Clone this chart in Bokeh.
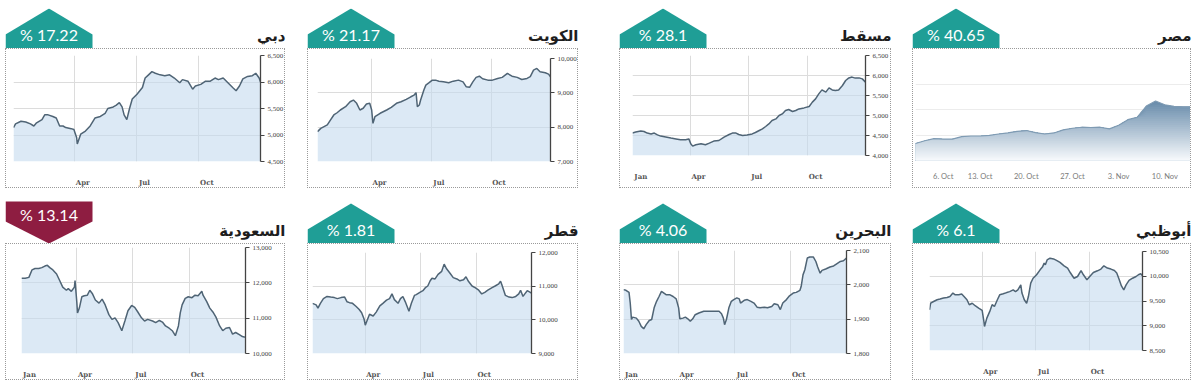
import numpy as np
from bokeh.plotting import figure
from bokeh.layouts import row, column
from bokeh.models import Range1d, FixedTicker, Spacer, NumeralTickFormatter
from bokeh.core.properties import value
from bokeh.embed import file_html
from bokeh.resources import INLINE

# ---------------- data ----------------
titles = ["دبي", "الكويت", "مسقط", "مصر", "السعودية", "قطر", "البحرين", "أبوظبي"]
changes = [17.22, 21.17, 28.1, 40.65, -13.14, 1.81, 4.06, 6.1]

month_day = {"Jan": 0, "Apr": 90, "Jul": 181, "Oct": 273}

dubai_days = [0, 3, 11, 18, 25, 30, 34, 42, 46, 51, 58, 63, 68, 73, 77, 85, 89, 93, 94, 99,
              106, 113, 120, 128, 135, 139, 147, 151, 156, 160, 163, 167, 171, 175, 182, 190,
              194, 199, 204, 209, 216, 223, 230, 237, 245, 249, 257, 264, 268, 276, 283, 290,
              297, 302, 309, 316, 323, 328, 333, 338, 345, 352, 357, 362, 364]
dubai_vals = [5140, 5210, 5260, 5245, 5210, 5170, 5230, 5290, 5380, 5380, 5350, 5320, 5170, 5170,
              5140, 5120, 5105, 4955, 4830, 5015, 5075, 5170, 5320, 5350, 5410, 5500, 5530, 5560,
              5610, 5530, 5380, 5290, 5500, 5680, 5770, 5895, 6075, 6135, 6195, 6165, 6135, 6120,
              6135, 6075, 5985, 6045, 6015, 5865, 5925, 5955, 6015, 6015, 6075, 6045, 6075, 5985,
              5895, 5835, 5925, 6060, 6105, 6120, 6165, 6075, 6000]
dubai_yticks = [4500, 5000, 5500, 6000, 6500]
dubai_months = ["Apr", "Jul", "Oct"]

kuwait_days = [7, 12, 17, 22, 27, 32, 37, 42, 50, 57, 62, 67, 72, 77, 82, 87, 90, 92, 95, 103,
               113, 120, 128, 135, 143, 150, 155, 158, 160, 163, 165, 170, 173, 178, 183, 188,
               193, 200, 208, 215, 223, 230, 235, 240, 245, 250, 255, 260, 268, 275, 283, 290,
               298, 305, 313, 320, 328, 333, 338, 343, 348, 356, 361, 364]
kuwait_vals = [7870, 7965, 8015, 8065, 8210, 8355, 8420, 8500, 8595, 8740, 8790, 8695, 8500, 8550,
               8675, 8695, 8500, 8110, 8305, 8405, 8500, 8575, 8695, 8740, 8810, 8885, 8935, 9005,
               8595, 8645, 8790, 9080, 9225, 9295, 9370, 9370, 9340, 9320, 9295, 9340, 9370, 9320,
               9175, 9160, 9320, 9450, 9485, 9410, 9370, 9370, 9420, 9450, 9565, 9485, 9450, 9390,
               9420, 9470, 9660, 9710, 9615, 9585, 9545, 9470]
kuwait_yticks = [7000, 8000, 9000, 10000]
kuwait_months = ["Apr", "Jul", "Oct"]

muscat_days = [0, 5, 13, 18, 23, 29, 34, 39, 44, 52, 60, 68, 75, 83, 88, 91, 94, 99, 107, 114,
               120, 127, 135, 143, 151, 156, 161, 166, 172, 179, 187, 192, 198, 203, 208, 213,
               218, 224, 229, 234, 239, 244, 250, 255, 260, 268, 276, 281, 286, 291, 296, 302,
               307, 312, 317, 322, 328, 333, 338, 343, 348, 354, 359, 364]
muscat_vals = [4565, 4585, 4610, 4600, 4560, 4540, 4560, 4515, 4485, 4460, 4435, 4415, 4395, 4395,
               4415, 4295, 4235, 4270, 4295, 4270, 4310, 4360, 4375, 4460, 4525, 4560, 4565, 4525,
               4500, 4510, 4540, 4575, 4625, 4665, 4725, 4790, 4875, 4915, 5000, 5040, 5125, 5150,
               5100, 5125, 5165, 5190, 5225, 5335, 5415, 5540, 5640, 5585, 5690, 5640, 5625, 5640,
               5750, 5875, 5940, 5960, 5935, 5940, 5915, 5835]
muscat_yticks = [4000, 4500, 5000, 5500, 6000, 6500]
muscat_months = ["Jan", "Apr", "Jul", "Oct"]

egypt_vals = [6665, 6775, 6855, 6840, 6840, 6935, 6960, 6960, 6985, 7040, 7080, 7145, 7175, 7095,
              7040, 7080, 7200, 7265, 7305, 7295, 7305, 7240, 7385, 7600, 7695, 8135, 8335, 8185,
              8120, 8105, 8105]
egypt_tick_index = [3, 7, 12, 17, 22, 27]
egypt_tick_labels = ["6. Oct", "13. Oct", "20. Oct", "27. Oct", "3. Nov", "10. Nov"]
egypt_yticks = [6000, 7000, 8000, 9000, 10000]

saudi_days = [0, 6, 12, 17, 22, 28, 33, 38, 42, 46, 51, 57, 62, 67, 73, 76, 81, 86, 87, 90, 91,
              94, 98, 102, 107, 111, 115, 120, 126, 131, 136, 142, 147, 152, 157, 163, 168, 173,
              179, 184, 189, 195, 200, 205, 213, 218, 224, 229, 234, 240, 245, 250, 255, 258, 261,
              266, 271, 277, 282, 287, 293, 295, 301, 306, 311, 316, 322, 327, 332, 338, 343, 348,
              354, 359, 363]
saudi_vals = [12130, 12130, 12155, 12365, 12405, 12405, 12430, 12475, 12495, 12430, 12365, 12250,
              12065, 11880, 11790, 11835, 11760, 11880, 12065, 11425, 11150, 11285, 11605, 11635,
              11650, 11790, 11700, 11515, 11425, 11540, 11375, 11100, 10965, 11010, 10875, 10645,
              10920, 11210, 11360, 11305, 11175, 11010, 10920, 10965, 10920, 10875, 10935, 10890,
              10780, 10715, 10645, 10505, 10780, 11150, 11375, 11560, 11605, 11580, 11650, 11635,
              11760, 11650, 11470, 11285, 11175, 11030, 10780, 10645, 10715, 10735, 10550, 10595,
              10535, 10480, 10460]
saudi_yticks = [10000, 11000, 12000, 13000]
saudi_months = ["Jan", "Apr", "Jul", "Oct"]

qatar_days = [3, 9, 12, 16, 21, 27, 33, 39, 44, 50, 56, 60, 64, 69, 75, 80, 84, 88, 90, 93, 97,
              103, 108, 114, 119, 125, 130, 134, 138, 144, 148, 152, 156, 159, 162, 166, 171, 174,
              180, 185, 189, 193, 197, 200, 205, 210, 216, 220, 224, 230, 235, 241, 246, 252, 256,
              260, 266, 271, 277, 282, 287, 292, 299, 304, 310, 313, 315, 321, 327, 332, 338, 343,
              346, 350, 353, 357, 362, 364]
qatar_vals = [10490, 10445, 10350, 10490, 10630, 10695, 10675, 10660, 10630, 10660, 10675, 10535,
              10510, 10490, 10395, 10305, 10210, 10025, 9840, 9980, 10165, 10115, 10230, 10415,
              10490, 10585, 10630, 10770, 10600, 10490, 10630, 10695, 10535, 10395, 10255, 10490,
              10725, 10750, 10815, 10865, 10955, 11005, 11160, 11235, 11215, 11350, 11440, 11655,
              11515, 11375, 11255, 11215, 11160, 11190, 11280, 11145, 11005, 10955, 10880, 10770,
              10815, 10880, 10955, 11005, 11070, 11145, 11050, 10725, 10675, 10660, 10695, 10770,
              10880, 10695, 10770, 10865, 10815, 10790]
qatar_yticks = [9000, 10000, 11000, 12000]
qatar_months = ["Apr", "Jul", "Oct"]

bahrain_days = [0, 4, 9, 11, 13, 15, 21, 25, 29, 33, 37, 42, 46, 50, 54, 58, 62, 66, 70, 76, 81,
                86, 90, 92, 97, 101, 105, 109, 113, 117, 123, 131, 139, 147, 156, 160, 163, 165,
                168, 172, 176, 180, 185, 189, 191, 197, 202, 208, 213, 218, 223, 230, 235, 242,
                246, 252, 256, 260, 266, 271, 277, 282, 288, 290, 293, 296, 300, 304, 310, 314,
                317, 321, 324, 330, 337, 343, 348, 354, 359, 364]
bahrain_vals = [1986, 1984, 1978, 1947, 1899, 1906, 1903, 1894, 1879, 1872, 1884, 1896, 1899, 1933,
                1952, 1966, 1981, 1976, 1971, 1971, 1966, 1959, 1933, 1901, 1903, 1906, 1901, 1894,
                1901, 1913, 1918, 1923, 1923, 1923, 1923, 1916, 1903, 1884, 1899, 1933, 1952, 1957,
                1962, 1959, 1947, 1955, 1957, 1952, 1947, 1935, 1933, 1935, 1933, 1937, 1945, 1942,
                1928, 1947, 1957, 1968, 1976, 1978, 1984, 1995, 2029, 2044, 2078, 2081, 2081, 2068,
                2052, 2034, 2042, 2046, 2052, 2055, 2061, 2068, 2070, 2078]
bahrain_yticks = [1800, 1900, 2000, 2100]
bahrain_months = ["Jan", "Apr", "Jul", "Oct"]

abudhabi_days = [0, 2, 7, 13, 18, 24, 30, 35, 40, 44, 50, 55, 59, 64, 68, 73, 78, 84, 90, 93, 94,
                 98, 103, 107, 111, 116, 120, 126, 132, 137, 143, 147, 151, 156, 158, 162, 166,
                 169, 173, 177, 183, 189, 193, 196, 198, 201, 206, 212, 217, 223, 230, 236, 241,
                 247, 253, 259, 263, 269, 275, 280, 287, 293, 298, 304, 310, 316, 320, 324, 328,
                 332, 336, 341, 347, 353, 357, 361, 364]
abudhabi_vals = [9320, 9455, 9490, 9525, 9540, 9560, 9570, 9590, 9660, 9625, 9625, 9640, 9590,
                 9525, 9425, 9455, 9405, 9355, 9310, 9085, 8985, 9155, 9290, 9425, 9390, 9525, 9625,
                 9645, 9670, 9690, 9725, 9690, 9725, 9825, 9660, 9525, 9455, 9590, 9860, 9960,
                 10030, 10130, 10185, 10265, 10230, 10330, 10365, 10350, 10320, 10280, 10210, 10165,
                 10065, 9960, 9995, 10115, 10030, 9930, 10010, 10075, 10110, 10145, 10210, 10165,
                 10145, 10115, 10065, 9940, 9805, 9725, 9825, 9915, 9960, 9995, 10030, 10050, 10010]
abudhabi_yticks = [8500, 9000, 9500, 10000, 10500]
abudhabi_months = ["Apr", "Jul", "Oct"]

# ---------------- style ----------------
TEAL = "#1f9e96"
MAROON = "#8e1d41"
LINE = "#4f6475"
FILL = "#c4dbef"
GRID = "#dcdcdc"
AXIS = "#444444"
BORDER_CSS = {"border": "1px dotted #9a9a9a"}

LEFT_PAD, TOP_PAD = 5, 8
COL_W = [282, 273, 274, 281]
GAPS = [20, 39, 19]
H1_HEAD, H1_CHART = 40, 140
H2_HEAD, H2_CHART = 55, 137
BADGE_W = 87


def header(title, change, width, height):
    p = figure(width=width, height=height, x_range=Range1d(0, width), y_range=Range1d(0, height),
               x_axis_location=None, y_axis_location=None, output_backend="svg",
               toolbar_location=None, min_border=0)
    p.frame_align = False
    p.grid.visible = False
    p.outline_line_color = None
    if change >= 0:
        xs = [0, 0, BADGE_W / 2, BADGE_W, BADGE_W]
        ys = [0, 14, 40, 14, 0]
        col, ty = TEAL, 14
    else:
        xs = [0, 0, BADGE_W, BADGE_W, BADGE_W / 2]
        ys = [22, 42, 42, 22, 0]
        col, ty = MAROON, 29
    p.patch(xs, ys, fill_color=col, line_color=None)
    p.text(x=[BADGE_W / 2], y=[ty], text=["%% %s" % abs(change)], text_align="center",
           text_baseline="middle", text_font=value("Lato"), text_font_size="16px",
           text_color="white")
    p.text(x=[width - 2], y=[13], text=[title], text_align="right", text_baseline="middle",
           text_font=value("DejaVu Sans"), text_font_style="bold", text_font_size="15px",
           text_color="#1e1e1e")
    return p


def chart(days, vals, yticks, months, width, height, L, T, B, R):
    x0, x1 = days[0], 364
    p = figure(width=width, height=height, x_range=Range1d(x0, x1),
               y_range=Range1d(yticks[0], yticks[-1]), y_axis_location="right",
               output_backend="svg", toolbar_location=None,
               min_border_left=L, min_border_top=T, min_border_bottom=B, min_border_right=R)
    p.frame_align = False
    p.styles = BORDER_CSS
    p.outline_line_color = None
    p.varea(x=days, y1=yticks[0], y2=vals, fill_color=FILL, fill_alpha=0.6)
    p.line(days, vals, line_color=LINE, line_width=1.5)
    # x axis: labels just right of the month gridlines
    frame_w = width - L - max(R, 30)
    off = int(round(8 * (x1 - x0) / frame_w))
    pos = [month_day[m] + off for m in months]
    xa = p.xaxis[0]
    xa.ticker = FixedTicker(ticks=pos)
    xa.major_label_overrides = {q: m for q, m in zip(pos, months)}
    xa.axis_line_color = None
    xa.major_tick_line_color = None
    xa.minor_tick_line_color = None
    xa.major_label_standoff = 10
    xa.major_label_text_font = "DejaVu Serif"
    xa.major_label_text_font_size = "7px"
    xa.major_label_text_font_style = "bold"
    xa.major_label_text_color = "#555555"
    p.xgrid.ticker = FixedTicker(ticks=[month_day[m] for m in ["Jan", "Apr", "Jul", "Oct"]])
    p.xgrid.grid_line_color = GRID
    # y axis on the right
    ya = p.yaxis[0]
    ya.ticker = FixedTicker(ticks=yticks)
    ya.formatter = NumeralTickFormatter(format="0,0")
    ya.axis_line_color = AXIS
    ya.axis_line_width = 1.3
    ya.major_tick_line_color = AXIS
    ya.major_tick_out = 4
    ya.major_tick_in = 0
    ya.minor_tick_line_color = None
    ya.major_label_standoff = 3
    ya.major_label_text_font = "Liberation Serif"
    ya.major_label_text_font_size = "7px"
    ya.major_label_text_color = "#444444"
    p.ygrid.grid_line_color = GRID
    return p


def egypt_chart(width, height):
    idx = list(range(len(egypt_vals)))
    p = figure(width=width, height=height, x_range=Range1d(0, len(egypt_vals) - 1),
               y_range=Range1d(egypt_yticks[0], egypt_yticks[-1]), y_axis_location=None,
               output_backend="svg", toolbar_location=None,
               min_border_left=2, min_border_right=0, min_border_top=9, min_border_bottom=29)
    p.frame_align = False
    p.styles = BORDER_CSS
    p.outline_line_color = None
    vals = np.array(egypt_vals, dtype=float)
    lo, hi = egypt_yticks[0], vals.max()
    top_c = np.array([106, 141, 172])
    bot_c = np.array([250, 252, 254])
    n = 30
    for k in range(n, 0, -1):
        lev = lo + (hi - lo) * k / n
        t = k / n
        c = (bot_c + (top_c - bot_c) * t).astype(int)
        p.varea(x=idx, y1=lo, y2=np.minimum(vals, lev),
                fill_color="#%02x%02x%02x" % tuple(c))
    p.line(idx, egypt_vals, line_color="#7f9bb3", line_width=1.2)
    xa = p.xaxis[0]
    xa.ticker = FixedTicker(ticks=egypt_tick_index)
    xa.major_label_overrides = {q: s for q, s in zip(egypt_tick_index, egypt_tick_labels)}
    xa.axis_line_color = None
    xa.major_tick_line_color = None
    xa.minor_tick_line_color = None
    xa.major_label_standoff = 5
    xa.major_label_text_font = "Lato"
    xa.major_label_text_font_size = "7.5px"
    xa.major_label_text_color = "#7a7a7a"
    p.xgrid.visible = False
    p.ygrid.ticker = FixedTicker(ticks=egypt_yticks)
    p.ygrid.grid_line_color = "#ececec"
    return p


charts_row1 = [
    chart(dubai_days, dubai_vals, dubai_yticks, dubai_months, COL_W[0] - 2, H1_CHART, 7, 6, 24, 19),
    chart(kuwait_days, kuwait_vals, kuwait_yticks, kuwait_months, COL_W[1] - 2, H1_CHART, 9, 9, 27, 24),
    chart(muscat_days, muscat_vals, muscat_yticks, muscat_months, COL_W[2] - 2, H1_CHART, 12, 6, 34, 27),
    egypt_chart(COL_W[3] - 2, H1_CHART),
]
charts_row2 = [
    chart(saudi_days, saudi_vals, saudi_yticks, saudi_months, COL_W[0] - 2, H2_CHART, 15, 3, 26, 41),
    chart(qatar_days, qatar_vals, qatar_yticks, qatar_months, COL_W[1] - 2, H2_CHART, 4, 8, 21, 48),
    chart(bahrain_days, bahrain_vals, bahrain_yticks, bahrain_months, COL_W[2] - 2, H2_CHART, 3, 6, 26, 46),
    chart(abudhabi_days, abudhabi_vals, abudhabi_yticks, abudhabi_months, COL_W[3] - 2, H2_CHART, 16, 7, 31, 50),
]

cols = []
for i in range(4):
    cols.append(column(
        header(titles[i], changes[i], COL_W[i], H1_HEAD),
        charts_row1[i],
        header(titles[i + 4], changes[i + 4], COL_W[i], H2_HEAD),
        charts_row2[i],
    ))

items = [Spacer(width=LEFT_PAD, height=10)]
for i in range(4):
    items.append(cols[i])
    if i < 3:
        items.append(Spacer(width=GAPS[i], height=10))

layout = column(Spacer(width=10, height=TOP_PAD), row(*items))

open("out.html", "w").write(file_html(layout, INLINE))
